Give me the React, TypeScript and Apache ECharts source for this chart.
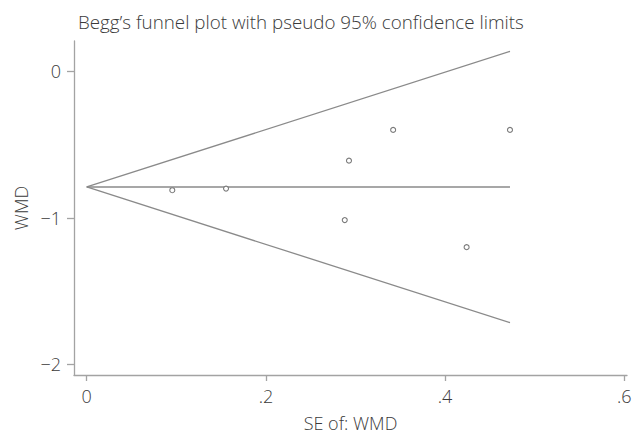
import React, { useEffect, useRef } from "react";
import * as echarts from "echarts";

const seValues = [0.0955, 0.1555, 0.2927, 0.288, 0.342, 0.4724, 0.424];
const wmdValues = [-0.811, -0.8, -0.609, -1.015, -0.399, -0.399, -1.2];
const limitSE = [0, 0.4724];
const pooledLine = [-0.789, -0.789];
const upperLimit = [-0.789, 0.137];
const lowerLimit = [-0.789, -1.715];
const xTicks = [0, 0.2, 0.4, 0.6];
const yTicks = [-2, -1, 0];

const FONT = "Open Sans";
const WEIGHT = 300;
const LINE = "#8a8a8a";
const AXIS = "#a3a3a3";
const TEXT = "#3a3a3a";

export default function App() {
  const ref = useRef<HTMLDivElement>(null);
  useEffect(() => {
    document.body.style.margin = "0";
    const chart = echarts.init(ref.current!, null, { renderer: "svg" });
    const pts = seValues.map((s, i) => [s, wmdValues[i]]);
    const mk = (ys: number[]) => limitSE.map((s, i) => [s, ys[i]]);
    const lineSeries = (name: string, ys: number[]) => ({
      name,
      type: "line",
      data: mk(ys),
      showSymbol: false,
      symbol: "none",
      lineStyle: { color: LINE, width: 1.3 },
      silent: true,
      z: 2,
    });
    const txt = { fontFamily: FONT, fontWeight: WEIGHT, fontSize: 18, color: TEXT };
    chart.setOption({
      animation: false,
      backgroundColor: "#ffffff",
      title: {
        text: "Begg\u2019s funnel plot with pseudo 95% confidence limits",
        left: 73,
        top: 7,
        textStyle: { ...txt, fontSize: 18.8 },
      },
      grid: { left: 74, right: 8, top: 41, bottom: 52.7, containLabel: false },
      xAxis: {
        type: "value",
        min: -0.0142,
        max: 0.603,
        name: "SE of: WMD",
        nameLocation: "middle",
        nameGap: 39,
        nameTextStyle: txt,
        axisLine: { show: true, onZero: false, lineStyle: { color: AXIS, width: 1.3 } },
        axisTick: { show: true, length: 6, customValues: xTicks, lineStyle: { color: AXIS, width: 1.3 } },
        axisLabel: {
          ...txt,
          customValues: xTicks,
          margin: 12,
          formatter: (v: number) => (v === 0 ? "0" : String(Number(v.toFixed(2))).replace("0.", ".")),
        },
        splitLine: { show: false },
      },
      yAxis: {
        type: "value",
        min: -2.073,
        max: 0.208,
        name: "WMD",
        nameLocation: "middle",
        nameGap: 42,
        nameRotate: 90,
        nameTextStyle: txt,
        axisLine: { show: true, onZero: false, lineStyle: { color: AXIS, width: 1.3 } },
        axisTick: { show: true, length: 7, customValues: yTicks, lineStyle: { color: AXIS, width: 1.3 } },
        axisLabel: {
          ...txt,
          customValues: yTicks,
          margin: 13,
          formatter: (v: number) => String(Math.round(v)).replace("-", "\u2212"),
        },
        splitLine: { show: false },
      },
      series: [
        lineSeries("Pooled", pooledLine),
        lineSeries("Upper limit", upperLimit),
        lineSeries("Lower limit", lowerLimit),
        {
          name: "Studies",
          type: "scatter",
          data: pts,
          symbol: "circle",
          symbolSize: 5,
          itemStyle: { color: "#ffffff", borderColor: "#7a7a7a", borderWidth: 1.1, opacity: 1 },
          z: 3,
        },
      ],
    });
    return () => chart.dispose();
  }, []);
  return <div ref={ref} style={{ width: 635, height: 437 }} />;
}
